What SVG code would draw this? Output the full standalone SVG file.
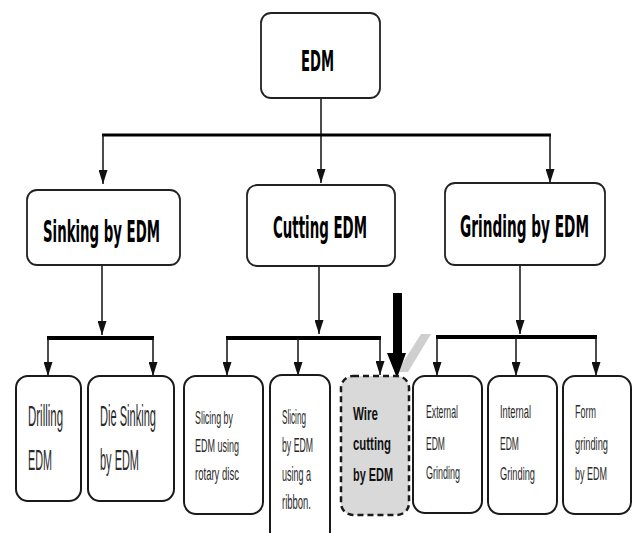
<svg xmlns="http://www.w3.org/2000/svg" width="633" height="533" viewBox="0 0 633 533">
<defs>
<marker id="ah" viewBox="0 0 14 9" refX="14" refY="4.5" markerWidth="14" markerHeight="9" markerUnits="userSpaceOnUse" orient="auto">
<path d="M0,0 L14,4.5 L0,9 z" fill="#111"/>
</marker>
</defs>
<style>
.box{fill:#fff;stroke:#222;stroke-width:1.8}
.lbox{fill:#fff;stroke:#1a1a1a;stroke-width:2}
.wbox{fill:#d9d9d9;stroke:#1a1a1a;stroke-width:2.5;stroke-dasharray:6 4}
.ln{stroke:#111;stroke-width:1.5;fill:none}
.bus{stroke:#000;stroke-width:4;fill:none}
.h{font-family:"DejaVu Sans",sans-serif;font-weight:bold;fill:#000}
.t{font-family:"Liberation Sans",sans-serif;fill:#2a2a2a}
.tb{font-family:"Liberation Sans",sans-serif;font-weight:bold;fill:#111}
</style>
<g id="connectors">
<line class="ln" x1="321" y1="98" x2="321" y2="183" marker-end="url(#ah)"/>
<line class="bus" x1="102" y1="135" x2="551" y2="135" style="stroke-width:3"/>
<line class="ln" x1="103" y1="135" x2="103" y2="184" marker-end="url(#ah)"/>
<line class="ln" x1="550" y1="135" x2="550" y2="183" marker-end="url(#ah)"/>
<line class="ln" x1="102" y1="265" x2="102" y2="335" marker-end="url(#ah)"/>
<line class="bus" x1="47" y1="338" x2="154" y2="338"/>
<line class="ln" x1="48" y1="338" x2="48" y2="376" marker-end="url(#ah)"/>
<line class="ln" x1="153" y1="338" x2="153" y2="376" marker-end="url(#ah)"/>
<line class="ln" x1="319" y1="266" x2="319" y2="334" marker-end="url(#ah)"/>
<line class="bus" x1="226" y1="338" x2="381" y2="338"/>
<line class="ln" x1="227" y1="338" x2="227" y2="376" marker-end="url(#ah)"/>
<line class="ln" x1="298" y1="338" x2="298" y2="376" marker-end="url(#ah)"/>
<line class="ln" x1="380" y1="338" x2="380" y2="375" marker-end="url(#ah)"/>
<line class="ln" x1="520" y1="265" x2="520" y2="334" marker-end="url(#ah)"/>
<line class="bus" x1="436" y1="337" x2="597" y2="337"/>
<line class="ln" x1="437" y1="337" x2="437" y2="376" marker-end="url(#ah)"/>
<line class="ln" x1="516" y1="337" x2="516" y2="376" marker-end="url(#ah)"/>
<line class="ln" x1="596" y1="337" x2="596" y2="376" marker-end="url(#ah)"/>
<polygon points="421,334 431,334 408,372 397,372" fill="#cfcfcf"/>
<polygon points="393,293 402,293 402,353 406,353 397,378 387,353 393,353" fill="#000"/>
</g>
<g id="edm">
<rect class="box" x="261" y="13" width="119" height="85" rx="10"/>
<text class="h" transform="translate(301,71) scale(1,2)" font-size="14.5" textLength="33" lengthAdjust="spacingAndGlyphs">EDM</text>
</g>
<g id="sinking">
<rect class="box" x="27" y="190" width="153" height="75" rx="10"/>
<text class="h" transform="translate(43,242) scale(1,2)" font-size="15.5" textLength="117" lengthAdjust="spacingAndGlyphs">Sinking by EDM</text>
</g>
<g id="cutting">
<rect class="box" x="247" y="185" width="148" height="81" rx="10"/>
<text class="h" transform="translate(273,238) scale(1,2)" font-size="15.5" textLength="94" lengthAdjust="spacingAndGlyphs">Cutting EDM</text>
</g>
<g id="grinding">
<rect class="box" x="445" y="183" width="160" height="82" rx="10"/>
<text class="h" transform="translate(460,237) scale(1,2)" font-size="15.5" textLength="129" lengthAdjust="spacingAndGlyphs">Grinding by EDM</text>
</g>
<g id="drilling">
<rect class="lbox" x="16" y="376" width="65" height="125" rx="12"/>
<text class="t" transform="translate(28,426) scale(1,2)" font-size="15" textLength="35" lengthAdjust="spacingAndGlyphs">Drilling</text>
<text class="t" transform="translate(28,470) scale(1,2)" font-size="15" textLength="24" lengthAdjust="spacingAndGlyphs">EDM</text>
</g>
<g id="diesinking">
<rect class="lbox" x="88" y="376" width="86" height="125" rx="12"/>
<text class="t" transform="translate(100,426) scale(1,2)" font-size="15" textLength="56" lengthAdjust="spacingAndGlyphs">Die Sinking</text>
<text class="t" transform="translate(100,470) scale(1,2)" font-size="15" textLength="39" lengthAdjust="spacingAndGlyphs">by EDM</text>
</g>
<g id="rotary">
<rect class="lbox" x="184" y="376" width="79" height="138" rx="12"/>
<text class="t" transform="translate(195,424) scale(1,2)" font-size="9.5" textLength="38" lengthAdjust="spacingAndGlyphs">Slicing by</text>
<text class="t" transform="translate(195,452) scale(1,2)" font-size="9.5" textLength="44" lengthAdjust="spacingAndGlyphs">EDM using</text>
<text class="t" transform="translate(195,480) scale(1,2)" font-size="9.5" textLength="44" lengthAdjust="spacingAndGlyphs">rotary disc</text>
</g>
<g id="ribbon">
<rect class="lbox" x="270" y="375" width="60" height="175" rx="12"/>
<text class="t" transform="translate(282,424) scale(1,2)" font-size="10" textLength="24" lengthAdjust="spacingAndGlyphs">Slicing</text>
<text class="t" transform="translate(282,452) scale(1,2)" font-size="10" textLength="31" lengthAdjust="spacingAndGlyphs">by EDM</text>
<text class="t" transform="translate(282,481) scale(1,2)" font-size="10" textLength="29" lengthAdjust="spacingAndGlyphs">using a</text>
<text class="t" transform="translate(282,509) scale(1,2)" font-size="10" textLength="29" lengthAdjust="spacingAndGlyphs">ribbon.</text>
</g>
<g id="wire">
<rect class="wbox" x="341" y="376" width="68" height="139" rx="12"/>
<text class="tb" transform="translate(353,420) scale(1,2)" font-size="9.5" textLength="25" lengthAdjust="spacingAndGlyphs">Wire</text>
<text class="tb" transform="translate(353,450) scale(1,2)" font-size="9.5" textLength="38" lengthAdjust="spacingAndGlyphs">cutting</text>
<text class="tb" transform="translate(353,481) scale(1,2)" font-size="9.5" textLength="40" lengthAdjust="spacingAndGlyphs">by EDM</text>
</g>
<g id="external">
<rect class="lbox" x="413" y="376" width="69" height="137" rx="12"/>
<text class="t" transform="translate(426,418) scale(1,2)" font-size="9.5" textLength="32" lengthAdjust="spacingAndGlyphs">External</text>
<text class="t" transform="translate(426,450) scale(1,2)" font-size="9.5" textLength="19" lengthAdjust="spacingAndGlyphs">EDM</text>
<text class="t" transform="translate(426,479) scale(1,2)" font-size="9.5" textLength="34" lengthAdjust="spacingAndGlyphs">Grinding</text>
</g>
<g id="internal">
<rect class="lbox" x="488" y="376" width="69" height="138" rx="12"/>
<text class="t" transform="translate(500,418) scale(1,2)" font-size="9.5" textLength="31" lengthAdjust="spacingAndGlyphs">Internal</text>
<text class="t" transform="translate(500,450) scale(1,2)" font-size="9.5" textLength="19" lengthAdjust="spacingAndGlyphs">EDM</text>
<text class="t" transform="translate(500,480) scale(1,2)" font-size="9.5" textLength="35" lengthAdjust="spacingAndGlyphs">Grinding</text>
</g>
<g id="form">
<rect class="lbox" x="563" y="376" width="68" height="138" rx="12"/>
<text class="t" transform="translate(575,418) scale(1,2)" font-size="9.5" textLength="21" lengthAdjust="spacingAndGlyphs">Form</text>
<text class="t" transform="translate(575,450) scale(1,2)" font-size="9.5" textLength="33" lengthAdjust="spacingAndGlyphs">grinding</text>
<text class="t" transform="translate(575,480) scale(1,2)" font-size="9.5" textLength="32" lengthAdjust="spacingAndGlyphs">by EDM</text>
</g>
</svg>
